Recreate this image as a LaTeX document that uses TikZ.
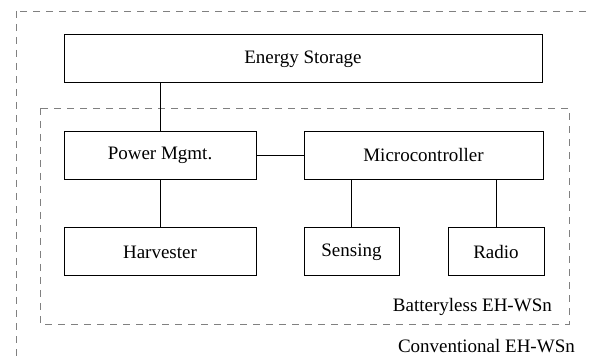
\documentclass[tikz,border=0pt]{standalone}
\usepackage{fontspec}
\setmainfont{Liberation Serif}
\usepackage{tikz}
\usetikzlibrary{positioning}

\begin{document}
\begin{tikzpicture}[x=1pt,y=-1pt,font=\fontsize{19}{22}\selectfont]
\tikzstyle{every node}+=[inner sep=0pt]
\tikzstyle{block}=[draw,black,line width=1pt,minimum height=48pt]
\tikzstyle{group}=[draw,gray,line width=0.8pt,dash pattern=on 7pt off 6pt]
\clip (0,0) rectangle (592,358);
\useasboundingbox (0,0) rectangle (592,358);
% outer and inner dashed regions
\draw [group] (16,11) rectangle (640,400);
\draw [group] (40,108) rectangle (569,324);
% blocks
\node [block,minimum width=478pt] (store) at (303,59) {Energy Storage};
\node [block,minimum width=192pt] (pwr) at (160,155.5) {Power Mgmt.};
\node [block,minimum width=239pt] (mcu) at (423.5,155.5) {Microcontroller};
\node [block,minimum width=192pt] (harv) at (160,252) {Harvester};
\node [block,minimum width=95pt] (sens) at (351.5,252) {Sensing};
\node [block,minimum width=96pt] (radio) at (496,252) {Radio};
% links
\draw [line width=1pt] (store.south -| pwr.north) -- (pwr.north);
\draw [line width=1pt] (pwr.east) -- (mcu.west);
\draw [line width=1pt] (pwr.south) -- (harv.north);
\draw [line width=1pt] (sens.north) -- (sens.north |- mcu.south);
\draw [line width=1pt] (radio.north) -- (radio.north |- mcu.south);
% labels
\node [anchor=east] (bl) at (552,307) {Batteryless EH-WSn};
\node [anchor=east] (cv) at (575,346) {Conventional EH-WSn};
\end{tikzpicture}
\end{document}
